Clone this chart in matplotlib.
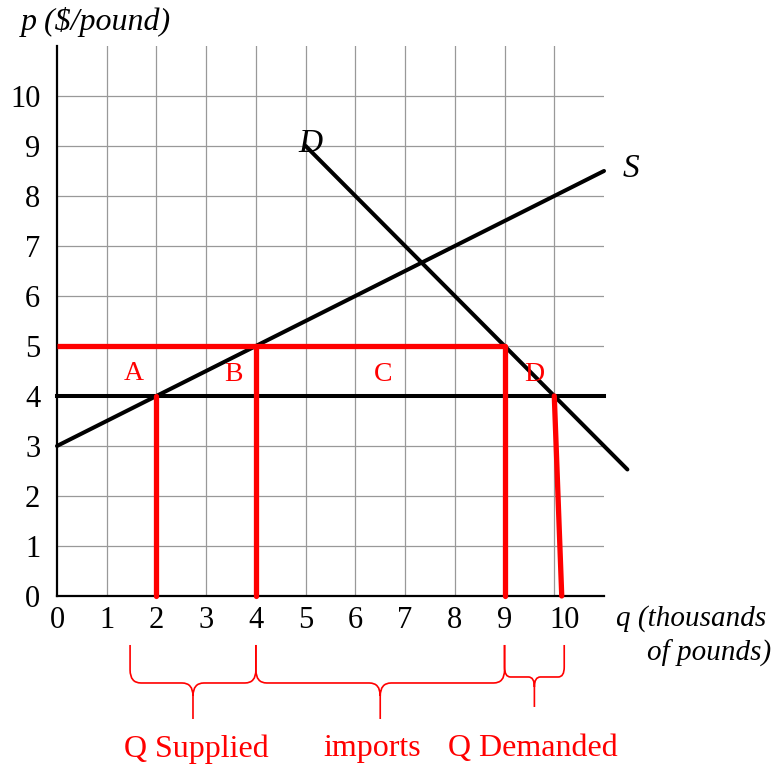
import matplotlib
matplotlib.use("Agg")
import matplotlib.pyplot as plt
from matplotlib.path import Path
from matplotlib.patches import PathPatch
from matplotlib.transforms import ScaledTranslation

plt.rcParams['font.family'] = ['Liberation Serif', 'DejaVu Serif']

# ---- data ----
x_ticks = [0, 1, 2, 3, 4, 5, 6, 7, 8, 9, 10]
x_tick_labels = ['0', '1', '2', '3', '4', '5', '6', '7', '8', '9', '10']
y_ticks = [0, 1, 2, 3, 4, 5, 6, 7, 8, 9, 10]
y_tick_labels = ['0', '1', '2', '3', '4', '5', '6', '7', '8', '9', '10']

supply_q = [0, 11]
supply_p = [3, 8.5]
demand_q = [5, 11.47]
demand_p = [9, 2.53]

world_price = 4
world_q = [0, 11]
tariff_price = 5
tariff_q = [0, 9]

# red vertical markers: (q_top, p_top, q_bottom)
red_verticals = [(2, 4, 2), (4, 5, 4), (9, 5, 9), (10, 4, 10.15)]

area_labels = ['A', 'B', 'C', 'D']
area_q = [1.55, 3.55, 6.55, 9.6]
area_p = [4.45, 4.42, 4.42, 4.42]

# braces: (q_left, q_right, label, label_q)
braces = [(1.47, 4.0, 'Q Supplied', 2.81),
          (4.0, 9.0, 'imports', 6.33),
          (9.0, 10.2, 'Q Demanded', 9.56)]

RED = '#ff0000'

fig = plt.figure(figsize=(7.72, 7.70), dpi=100)
ax = fig.add_axes([0.0738, 0.226, 0.7086, 0.7143])
ax.set_xlim(0, 11)
ax.set_ylim(0, 11)

# grid
for x in range(1, 11):
    ax.plot([x, x], [0, 11], color='#999999', lw=0.9, zorder=1)
for y in range(1, 11):
    ax.plot([0, 11], [y, y], color='#999999', lw=0.9, zorder=1)

for s in ['top', 'right']:
    ax.spines[s].set_visible(False)
for s in ['left', 'bottom']:
    ax.spines[s].set_linewidth(1.6)
    ax.spines[s].set_zorder(3)

ax.set_xticks(x_ticks)
ax.set_xticklabels(x_tick_labels, fontsize=22)
ax.set_yticks(y_ticks)
ax.set_yticklabels(y_tick_labels, fontsize=22)
ax.tick_params(length=0)
ax.tick_params(axis='x', pad=7)
ax.tick_params(axis='y', pad=12)
lbl10 = ax.get_xticklabels()[-1]
lbl10.set_transform(lbl10.get_transform() + ScaledTranslation(0.10, 0, fig.dpi_scale_trans))

# curves
ax.plot(supply_q, supply_p, color='black', lw=2.9, solid_capstyle='round', zorder=4, clip_on=False)
ax.plot(demand_q, demand_p, color='black', lw=2.9, solid_capstyle='round', zorder=4, clip_on=False)
ax.plot(world_q, [world_price, world_price], color='black', lw=2.9, zorder=4, clip_on=False)

# red lines
ax.plot(tariff_q, [tariff_price, tariff_price], color=RED, lw=3.8, solid_capstyle='butt', zorder=5)
for qt, pt, qb in red_verticals:
    ax.plot([qt, qb], [pt, 0], color=RED, lw=3.8, solid_capstyle='round', zorder=5, clip_on=False)

for t, q, p in zip(area_labels, area_q, area_p):
    ax.text(q, p, t, color=RED, fontsize=20, ha='center', va='center', zorder=6)

ax.text(11.55, 8.55, 'S', fontsize=24, style='italic', ha='center', va='center')
ax.text(5.1, 9.05, 'D', fontsize=24, style='italic', ha='center', va='center', zorder=6)

# axis titles
fig.text(0.027, 0.972, 'p ($/pound)', fontsize=23, style='italic', ha='left', va='center')
fig.text(0.992, 0.197, 'q (thousands', fontsize=21, style='italic', ha='right', va='center')
fig.text(0.999, 0.152, 'of pounds)', fontsize=21, style='italic', ha='right', va='center')

# braces
def brace(q0, q1, ytop, ymid, ytip, rx=0.22, ry=0.26):
    qc = 0.5 * (q0 + q1)
    verts = [(q0, ytop), (q0, ymid + ry), (q0, ymid), (q0 + rx, ymid),
             (qc - rx, ymid), (qc, ymid), (qc, ymid - ry), (qc, ytip),
             (qc, ymid - ry), (qc, ymid), (qc + rx, ymid),
             (q1 - rx, ymid), (q1, ymid), (q1, ymid + ry), (q1, ytop)]
    codes = [Path.MOVETO, Path.LINETO, Path.CURVE3, Path.CURVE3,
             Path.LINETO, Path.CURVE3, Path.CURVE3, Path.LINETO,
             Path.MOVETO, Path.CURVE3, Path.CURVE3,
             Path.LINETO, Path.CURVE3, Path.CURVE3, Path.LINETO]
    return PathPatch(Path(verts, codes), fill=False, edgecolor=RED, lw=1.2, clip_on=False)

for i, (q0, q1, txt, lq) in enumerate(braces):
    if i == 2:
        ax.add_patch(brace(q0, q1, -0.98, -1.62, -2.22, rx=0.12, ry=0.2))
    else:
        ax.add_patch(brace(q0, q1, -0.98, -1.74, -2.46))
    ax.text(lq, -3.06, txt, color=RED, fontsize=23, ha='center', va='center')

fig.savefig('out.png', dpi=100)
